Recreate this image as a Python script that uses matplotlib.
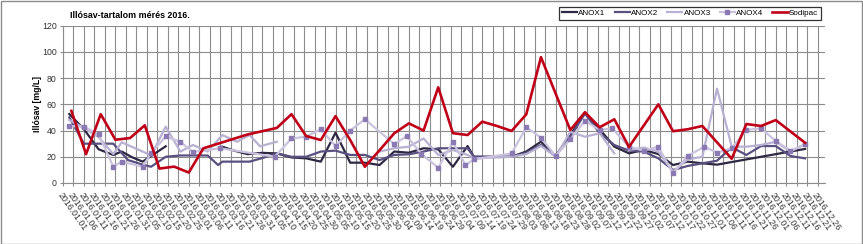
import matplotlib.pyplot as plt
import matplotlib.dates as mdates
from matplotlib import font_manager
from matplotlib.patches import Rectangle
import numpy as np
import pandas as pd

# sampling dates (2016, MM-DD) and values in mg/L; None = break in the line
anox1_dates = ["01-04", "01-11", "01-18", "01-25", "01-29", "02-03", "02-08", "02-19", "02-26",
               "03-17", "03-22", "03-29", "04-05", "04-12", "04-19", "04-26", "05-03", "05-10",
               "05-17", "05-24", "05-31", "06-07", "06-14", "06-21", "06-28", "07-05", "07-12",
               "07-15", "08-02", "08-09", "08-16", "08-23", "08-30", "09-06", "09-13", "09-20",
               "09-27", "10-04", "10-11", "10-18", "10-25", "11-01", "11-08", "12-20"]
anox1 = [52.6, 41, 25.7, 21.4, 24, 19.6, 16.3, 28, None,
         27.7, 25, 22, 23, 22.6, 19.5, 18.8, 16.3, 38.4,
         15.5, 15.5, 13.7, 24, 23.1, 26.5, 25.7, 12.4, 28.2,
         20, 20, 24, 31.5, 20.6, 36.6, 53.6, 41, 27.7,
         22.6, 25.2, 22.1, 13.7, 16.3, 15, 14, 26]

anox2_dates = ["01-04", "01-11", "01-18", "01-25", "02-01", "02-08", "02-12", "02-19", "02-26",
               "03-03", "03-10", "03-15", "03-17", "03-30", "04-05", "04-12", "04-19", "04-26",
               "05-03", "05-10", "05-17", "05-24", "05-31", "06-07", "06-14", "06-21", "06-28",
               "07-05", "07-12", "07-15", "08-02", "08-09", "08-16", "08-23", "08-30", "09-06",
               "09-13", "09-20", "09-27", "10-04", "10-11", "10-18", "10-25", "11-01", "11-08",
               "11-15", "11-22", "11-29", "12-06", "12-13", "12-20"]
anox2 = [50, 30, 30, 30, 17.5, 14, 12.4, 20, 21,
         21, 21, 13.7, 16.3, 16.3, 19, 22.6, 20, 20,
         24, 24.7, 21.4, 21.4, 17.5, 21.4, 21.9, 24, 26.5,
         26.5, 26.5, 20, 20, 23, 29, 21, 35, 53,
         38, 29, 24.7, 24, 18.8, 9.9, 13, 15, 17,
         27.2, 21.4, 28.2, 28.2, 20.6, 18.8]

anox3_dates = ["01-04", "01-11", "01-18", "01-25", "01-29", "02-08", "02-12", "02-19", "02-26",
               "03-03", "03-10", "03-17", "03-24", "03-30", "04-04", "04-12", "05-01",
               "05-31", "06-07", "06-14", "06-21", "06-28", "07-05", "07-12", "07-15", "08-02",
               "08-09", "08-16", "08-23", "08-30", "09-06", "09-13", "09-20", "09-23",
               "09-27", "10-04", "10-11", "10-18", "10-25", "11-01", "11-08", "11-15", "11-22",
               "11-29", "12-06", "12-13", "12-20"]
anox3 = [48, 42, 35, 22, 31, 24, 21, 43, 24,
         29, 24, 36.6, 31.5, 36.6, 28, 31.5, None,
         24, 26.5, 27.7, 34, 21.4, 25.2, 21.4, 18.8, 20,
         22, 28.2, 20, 39, 35.3, 37.9, 22.6, None,
         25.2, 27, 24, 8.6, 18, 20, 72, 27.7, 27.7,
         29, 31.5, 24, 29.7]

anox4_dates = ["01-04", "01-11", "01-18", "01-25", "01-29", "02-08", "02-12", "02-19", "02-26",
               "03-03", "03-16", "04-11", "04-19", "04-26", "05-03", "05-10", "05-17", "05-24",
               "06-07", "06-13", "06-20", "06-28", "07-05", "07-11", "07-15", "08-02", "08-09",
               "08-16", "08-23", "08-30", "09-06", "09-13", "09-19", "09-27", "10-04", "10-11",
               "10-18", "10-25", "11-02", "11-08", "11-15", "11-22", "11-29", "12-06", "12-13",
               "12-20"]
anox4 = [43.5, 43, 37, 12.5, 16.3, 12.5, 22.6, 35.5, 31.3,
         23.7, 26.5, 20, 34, 35.3, 41, 28.2, 40, 48.6,
         29.7, 35.8, 22.1, 11.7, 31.3, 13.7, 18, 22.6, 42.5,
         34.6, 20.6, 33.3, 47.5, 40.4, 41.7, 27.7, 24.7, 27.7,
         7.3, 20.8, 27.7, 23.1, 26.5, 40.5, 41.7, 32, 24.7,
         29.5]

sodipac_dates = ["01-05", "01-12", "01-19", "01-26", "02-02", "02-09", "02-16", "02-23", "03-01",
                 "03-08", "03-15", "03-22", "03-29", "04-05", "04-12", "04-19", "04-26", "05-03",
                 "05-10", "05-17", "05-24", "05-31", "06-07", "06-14", "06-21", "06-28", "07-05",
                 "07-12", "07-19", "07-26", "08-02", "08-09", "08-16", "08-30", "09-06", "09-13",
                 "09-20", "09-27", "10-11", "10-18", "10-25", "11-01", "11-15", "11-22", "11-29",
                 "12-06", "12-20"]
sodipac = [55, 22, 52.5, 33, 34.3, 44, 11, 12.5, 8,
           26.5, 30, 33.5, 37, 39.5, 42, 52.5, 35.8, 32.8,
           51, 32.8, 12.4, 25, 37.9, 45.5, 40, 73, 38,
           36.6, 46.8, 43.5, 39.7, 52.4, 96, 40.4, 54, 42.5,
           48.6, 27.5, 60, 39.5, 41, 43.5, 18.5, 45, 43.5,
           48, 30.7]

names = {f.name for f in font_manager.fontManager.ttflist}
font = "Liberation Sans Narrow" if "Liberation Sans Narrow" in names else "Liberation Sans"
plt.rcParams["font.family"] = [font, "DejaVu Sans"]


def xy(dates, values):
    x = pd.to_datetime(["2016-" + d for d in dates])
    y = np.array([np.nan if v is None else v for v in values], dtype=float)
    return x, y


W, H = 863, 244
fig = plt.figure(figsize=(W / 100, H / 100), dpi=100)
ax = fig.add_axes([63 / W, 1 - 183 / H, (825 - 63) / W, (183 - 25.7) / H])

grid_c = "#8c8c8c"
styles = [
    ("ANOX1", anox1_dates, anox1, dict(color="#2f2842", lw=1.6)),
    ("ANOX2", anox2_dates, anox2, dict(color="#5a5080", lw=1.6)),
    ("ANOX3", anox3_dates, anox3, dict(color="#b9b1d2", lw=1.6)),
    ("ANOX4", anox4_dates, anox4, dict(color="#cbc3de", lw=1.6, marker="s", ms=3.2,
                                       mfc="#8a79b3", mec="#8a79b3")),
    ("Sodipac", sodipac_dates, sodipac, dict(color="#c00018", lw=1.9)),
]
handles = []
for name, d, v, st in styles:
    x, y = xy(d, v)
    line, = ax.plot(x, y, label=name, **st)
    handles.append(line)

ax.set_ylim(0, 120)
ax.set_yticks(range(0, 121, 20))
ax.set_xlim(pd.Timestamp("2016-01-01"), pd.Timestamp("2016-01-01") + pd.Timedelta(days=363.5))
ticks = pd.date_range("2016-01-01", "2016-12-26", freq="5D")
ax.set_xticks(ticks)
ax.xaxis.set_major_formatter(mdates.DateFormatter("%Y.%m.%d"))

ax.grid(True, color=grid_c, lw=0.8)
ax.set_axisbelow(True)
for s in ["top", "right"]:
    ax.spines[s].set_visible(False)
for s in ["left", "bottom"]:
    ax.spines[s].set_color(grid_c)
    ax.spines[s].set_linewidth(0.8)

ax.tick_params(axis="both", color=grid_c, length=2.5, width=0.8, labelsize=6.3,
               labelcolor="#333333")
ax.tick_params(axis="x", pad=3)
ax.tick_params(axis="y", pad=2)
for lab in ax.get_xticklabels():
    lab.set_rotation(-55)
    lab.set_ha("left")
    lab.set_va("top")
    lab.set_rotation_mode("anchor")

fig.text(70 / W, 1 - 15 / H, "Illósav-tartalom mérés 2016.", fontsize=6.4,
         fontweight="bold", ha="left", va="center")
fig.text(37 / W, 1 - 104 / H, "Illósav [mg/L]", fontsize=6.2, fontweight="bold",
         rotation=90, ha="center", va="center")

leg = fig.legend(handles=handles, loc="center", bbox_to_anchor=(690 / W, 1 - 13.5 / H),
                 ncol=5, fontsize=5.8, frameon=True, fancybox=False, handlelength=1.9,
                 handletextpad=0.15, columnspacing=1.1, borderpad=0.35)
leg.get_frame().set_edgecolor("black")
leg.get_frame().set_linewidth(0.9)

fig.add_artist(Rectangle((0.5 / W, 0.5 / H), 1 - 1.5 / W, 1 - 1.5 / H,
                         transform=fig.transFigure, fill=False, edgecolor="#8c8c8c", lw=1))

fig.savefig("out.png", dpi=100)
